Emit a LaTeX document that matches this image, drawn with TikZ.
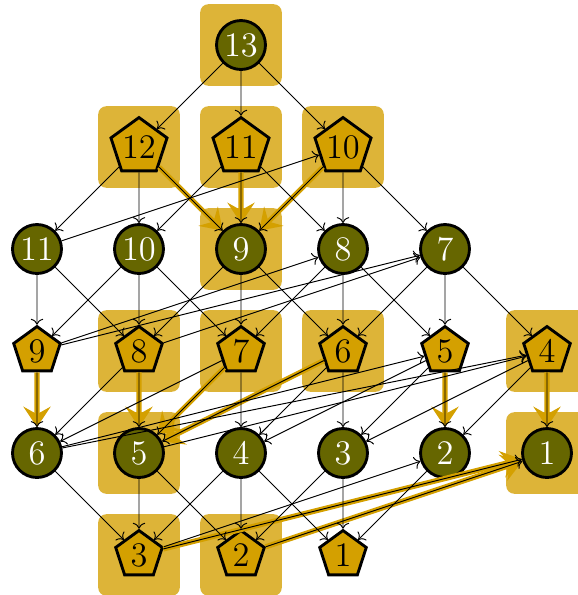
\documentclass[tikz,border=0pt]{standalone}
\usepackage{tikz}
\usetikzlibrary{shapes.geometric}
\usetikzlibrary{arrows.meta}
\definecolor{oliveDark}{RGB}{102,102,0}
\definecolor{goldFill}{RGB}{212,160,0}
\definecolor{goldBox}{RGB}{221,180,56}
\newcommand{\tikzPlaceBox}[1]{\fill[goldBox, rounded corners = 1.2mm] #1 ++(-0.6,-0.6) rectangle ++(1.2,1.2)}
\tikzset{
  circ/.style = {circle, draw, line width = 1.2pt, fill = oliveDark, text = white,
                 minimum size = 7.2mm, inner sep = 0pt, font = \Large},
  pent/.style = {regular polygon, regular polygon sides = 5, draw, line width = 1.2pt,
                 fill = goldFill, minimum size = 7.2mm, inner sep = 0pt, font = \Large},
  hilite/.style = {draw = goldFill, line width = 2.2pt,
                   -{Stealth[length = 3mm, width = 4mm, inset = 1.1mm]}}
}

\begin{document}
\begin{tikzpicture}
                \useasboundingbox (-0.544,-8.088) rectangle (7.956,0.662);
                \tikzPlaceBox{(3,0)};
                \tikzPlaceBox{(1.5,-1.5)};
                \tikzPlaceBox{(3,-1.5)};
                \tikzPlaceBox{(4.5,-1.5)};
                \tikzPlaceBox{(3,-3)};
                \tikzPlaceBox{(1.5,-4.5)};
                \tikzPlaceBox{(3,-4.5)};
                \tikzPlaceBox{(4.5,-4.5)};
                \tikzPlaceBox{(7.5,-4.5)};
                \tikzPlaceBox{(1.5,-6)};
                \tikzPlaceBox{(7.5,-6)};
                \tikzPlaceBox{(1.5,-7.5)};
                \tikzPlaceBox{(3,-7.5)};

                \node [circ] (c13) at (3,0) {13};
                \node [pent] (p12) at (1.5,-1.5) {12};
                \node [pent] (p11) at (3,-1.5) {11};
                \node [pent] (p10) at (4.5,-1.5) {10};
                \node [circ] (c11) at (0,-3) {11};
                \node [circ] (c10) at (1.5,-3) {10};
                \node [circ] (c9) at (3,-3) {9};
                \node [circ] (c8) at (4.5,-3) {8};
                \node [circ] (c7) at (6,-3) {7};
                \node [pent] (p9) at (0,-4.5) {9};
                \node [pent] (p8) at (1.5,-4.5) {8};
                \node [pent] (p7) at (3,-4.5) {7};
                \node [pent] (p6) at (4.5,-4.5) {6};
                \node [pent] (p5) at (6,-4.5) {5};
                \node [pent] (p4) at (7.5,-4.5) {4};
                \node [circ] (c6) at (0,-6) {6};
                \node [circ] (c5) at (1.5,-6) {5};
                \node [circ] (c4) at (3,-6) {4};
                \node [circ] (c3) at (4.5,-6) {3};
                \node [circ] (c2) at (6,-6) {2};
                \node [circ] (c1) at (7.5,-6) {1};
                \node [pent] (p3) at (1.5,-7.5) {3};
                \node [pent] (p2) at (3,-7.5) {2};
                \node [pent] (p1) at (4.5,-7.5) {1};

                \draw [hilite] (p12) -- (c9);
                \draw [hilite] (p11) -- (c9);
                \draw [hilite] (p10) -- (c9);
                \draw [hilite] (p9) -- (c6);
                \draw [hilite] (p8) -- (c5);
                \draw [hilite] (p7) -- (c5);
                \draw [hilite] (p6) -- (c5);
                \draw [hilite] (p5) -- (c2);
                \draw [hilite] (p4) -- (c1);
                \draw [hilite] (p3) -- (c1);
                \draw [hilite] (p2) -- (c1);

                \draw [->] (c13) -- (p12);
                \draw [->] (c13) -- (p11);
                \draw [->] (c13) -- (p10);
                \draw [->] (p12) -- (c11);
                \draw [->] (p12) -- (c10);
                \draw [->] (p12) -- (c9);
                \draw [->] (p11) -- (c10);
                \draw [->] (p11) -- (c9);
                \draw [->] (p11) -- (c8);
                \draw [->] (p10) -- (c9);
                \draw [->] (p10) -- (c8);
                \draw [->] (p10) -- (c7);
                \draw [->] (c11) -- (p10);
                \draw [->] (c11) -- (p9);
                \draw [->] (c11) -- (p8);
                \draw [->] (c10) -- (p9);
                \draw [->] (c10) -- (p8);
                \draw [->] (c10) -- (p7);
                \draw [->] (c9) -- (p8);
                \draw [->] (c9) -- (p7);
                \draw [->] (c9) -- (p6);
                \draw [->] (c8) -- (p7);
                \draw [->] (c8) -- (p6);
                \draw [->] (c8) -- (p5);
                \draw [->] (c7) -- (p6);
                \draw [->] (c7) -- (p5);
                \draw [->] (c7) -- (p4);
                \draw [->] (p9) -- (c8);
                \draw [->] (p9) -- (c7);
                \draw [->] (p9) -- (c6);
                \draw [->] (p8) -- (c7);
                \draw [->] (p8) -- (c6);
                \draw [->] (p8) -- (c5);
                \draw [->] (p7) -- (c6);
                \draw [->] (p7) -- (c5);
                \draw [->] (p7) -- (c4);
                \draw [->] (p6) -- (c5);
                \draw [->] (p6) -- (c4);
                \draw [->] (p6) -- (c3);
                \draw [->] (p5) -- (c4);
                \draw [->] (p5) -- (c3);
                \draw [->] (p5) -- (c2);
                \draw [->] (p4) -- (c3);
                \draw [->] (p4) -- (c2);
                \draw [->] (p4) -- (c1);
                \draw [->] (c6) -- (p5);
                \draw [->] (c6) -- (p4);
                \draw [->] (c6) -- (p3);
                \draw [->] (c5) -- (p4);
                \draw [->] (c5) -- (p3);
                \draw [->] (c5) -- (p2);
                \draw [->] (c4) -- (p3);
                \draw [->] (c4) -- (p2);
                \draw [->] (c4) -- (p1);
                \draw [->] (c3) -- (p2);
                \draw [->] (c3) -- (p1);
                \draw [->] (c2) -- (p1);
                \draw [->] (p3) -- (c2);
                \draw [->] (p3) -- (c1);
                \draw [->] (p2) -- (c1);
              \end{tikzpicture}
\end{document}
